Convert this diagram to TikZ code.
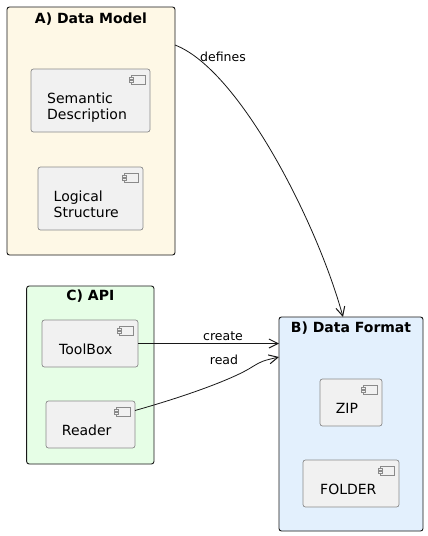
\documentclass[tikz,border=0pt]{standalone}
\usepackage{fontspec}
\setmainfont{DejaVu Sans}
\usetikzlibrary{arrows.meta}
\definecolor{afill}{HTML}{FEF8E6}
\definecolor{cfill}{HTML}{E6FEE6}
\definecolor{bfill}{HTML}{E3F0FD}
\definecolor{compfill}{HTML}{F1F1F1}
\definecolor{compline}{HTML}{8A8A8A}
\definecolor{inkc}{HTML}{181818}
\tikzset{
  frame/.style={draw=inkc, line width=0.9pt, rounded corners=2.5pt, outer sep=0pt, inner sep=0pt},
  comp/.style={draw=compline, fill=compfill, line width=0.7pt, rounded corners=2.5pt, outer sep=0pt, inner sep=0pt},
  ftitle/.style={font=\fontsize{14}{16}\selectfont\bfseries, text=black, anchor=base, inner sep=0pt},
  ctext/.style={font=\fontsize{14}{16}\selectfont, text=black, align=left, anchor=base west, inner sep=0pt},
  elabel/.style={font=\fontsize{12.5}{14}\selectfont, text=black, inner sep=0pt},
  arr/.style={draw=inkc, line width=0.8pt, -{Straight Barb[length=9pt,width=9pt,line width=1pt]}},
  compicon/.pic={
    \draw[draw=compline, fill=compfill, line width=0.6pt] (-19,6) rectangle (-5,15);
    \draw[draw=compline, fill=compfill, line width=0.6pt] (-21,8) rectangle (-17,10);
    \draw[draw=compline, fill=compfill, line width=0.6pt] (-21,11.5) rectangle (-17,13.5);
  }
}
\begin{document}
\begin{tikzpicture}[x=1pt,y=-1pt]
\useasboundingbox[fill=white] (0,0) rectangle (428,536);
% frames
\node[frame, fill=afill, minimum width=168pt, minimum height=248pt] (A) at (91,131) {};
\node[frame, fill=cfill, minimum width=127.3pt, minimum height=178pt] (C) at (90.3,375) {};
\node[frame, fill=bfill, minimum width=144pt, minimum height=214pt] (B) at (351,424) {};
\node[ftitle] (At) at (91,23) {A) Data Model};
\node[ftitle] (Ct) at (90.3,300.7) {C) API};
\node[ftitle] (Bt) at (351,332.3) {B) Data Format};
% components
\node[comp, minimum width=119pt, minimum height=63pt] (sem) at (90.5,100.5) {};
\node[comp, minimum width=105pt, minimum height=63pt] (log) at (90.5,198.5) {};
\node[comp, minimum width=96pt, minimum height=47pt] (tb) at (90,343.5) {};
\node[comp, minimum width=89pt, minimum height=47pt] (rd) at (90.5,424.5) {};
\node[comp, minimum width=62pt, minimum height=47pt] (zip) at (351,402.5) {};
\node[comp, minimum width=96pt, minimum height=47pt] (fold) at (351,483.5) {};
\foreach \c in {sem,log,tb,rd,zip,fold} { \pic at (\c.north east) {compicon}; }
\node[ctext] (semt) at ([xshift=16pt,yshift=-50.5pt]sem.north west) {Semantic\\Description};
\node[ctext] (logt) at ([xshift=15.5pt,yshift=-50.5pt]log.north west) {Logical\\Structure};
\node[ctext] (tbt) at ([xshift=17pt,yshift=-34.5pt]tb.north west) {ToolBox};
\node[ctext] (rdt) at ([xshift=15.7pt,yshift=-34.5pt]rd.north west) {Reader};
\node[ctext] (zipt) at ([xshift=15.7pt,yshift=-34.5pt]zip.north west) {ZIP};
\node[ctext] (foldt) at ([xshift=17pt,yshift=-34.5pt]fold.north west) {FOLDER};
% connectors
\coordinate (readend) at ([yshift=-40pt]B.north west);
\draw[arr] ([yshift=-38pt]A.north east) .. controls (240,70) and (318,225) .. ([xshift=-8pt]B.north);
\node[elabel] (deflbl) at (223,57) {defines};
\draw[arr] (tb.east) -- (tb.east -| B.west);
\node[elabel] (crlbl) at (223,336) {create};
\draw[arr] ([yshift=14pt]rd.east) .. controls (190,395) and (235,378) .. (252,367) .. controls (262,361) .. (readend);
\node[elabel] (rdlbl) at (224,360) {read};
\end{tikzpicture}
\end{document}
